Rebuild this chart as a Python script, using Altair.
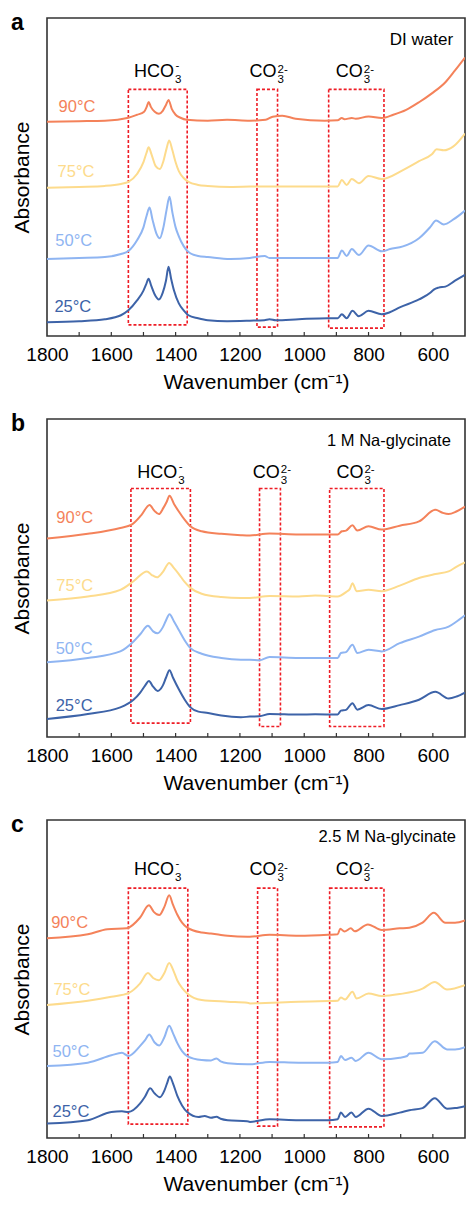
import altair as alt
import pandas as pd

TEMPS = ["25°C", "50°C", "75°C", "90°C"]
COLORS = ["#3D63A8", "#8FB5F2", "#FDDB8C", "#F4825A"]

XTICK_LABELS = [1800, 1600, 1400, 1200, 1000, 800, 600]
XTICK_MARKS = [1700, 1600, 1500, 1400, 1300, 1200, 1100, 1000, 900, 800, 700, 600]

# ---------------- panel a : DI water ----------------
a_25 = [(1800,14),(1700,15),(1620,17),(1570,21),(1547,26),(1520,36),(1500,46),(1492,52),(1484,58),(1476,51),
        (1465,42),(1452,37),(1440,44),(1430,56),(1422,70),(1414,58),(1405,46),(1390,33),(1375,26),(1360,21),
        (1330,18),(1300,16),(1240,15),(1169,15.5),(1124,16),(1108,17),(1088,16),(1017,17),(926,18),(896,18),
        (883,22),(868,18),(850,25.5),(830,20),(800,25.5),(759,22),(734,24),(703,29),(643,37),(607,44),(597,47),
        (582,49),(561,50),(531,56),(500,62)]
a_50 = [(1800,78),(1700,79),(1620,80),(1570,83),(1547,86),(1520,97),(1500,110),(1490,122),(1481,130),(1472,118),
        (1460,104),(1449,99),(1438,110),(1428,128),(1419,141),(1410,125),(1400,110),(1390,101),(1375,91),(1360,85),
        (1330,81),(1300,80),(1230,78),(1169,79),(1123,81),(1108,79),(1017,79),(926,79),(896,79),(883,86.7),
        (868,81),(852,88),(830,82),(800,91.7),(759,85.7),(733,88),(693,90.7),(643,99),(607,110.7),(590,117),
        (566,113),(536,118),(500,127)]
a_75 = [(1800,150),(1700,151),(1620,152),(1570,154),(1547,156),(1520,164),(1500,176),(1490,186),(1484,191),(1475,184),
        (1462,172),(1449,169),(1438,177),(1428,190),(1420,198),(1410,188),(1400,176),(1390,167),(1375,160),(1360,156),
        (1330,153),(1300,152),(1230,151),(1169,151.3),(1100,151.5),(1017,151.5),(926,151.5),(896,151.5),(883,158),
        (868,153),(852,159),(830,154.7),(800,162),(759,159),(693,168),(643,177),(603,184),(588,189),(566,188),
        (536,192),(500,205)]
a_90 = [(1800,217),(1700,217.5),(1620,218),(1547,221),(1520,224),(1498,227),(1490,232),(1484,237),(1477,232),(1465,227),
        (1452,225),(1440,228),(1430,234),(1422,239),(1412,230),(1400,224),(1385,221),(1366,219),(1300,218),(1240,219),
        (1169,218),(1120,219),(1098,222),(1068,223),(1027,220),(936,218),(896,218.5),(883,220.7),(875,219.5),
        (852,220.7),(840,220),(800,222.3),(759,220.7),(723,224),(683,229),(643,236.7),(603,245.7),(561,257),
        (531,269),(500,282)]

# ---------------- panel b : 1 M Na-glycinate ----------------
b_25 = [(1800,18.3),(1673,23.3),(1572,30),(1531,37.7),(1510,45),(1495,52),(1483,56.7),(1470,51),(1456,46.7),(1440,52),
        (1430,60),(1419,67.7),(1408,60),(1390,48.3),(1372,38),(1354,30),(1329,25.7),(1299,24.3),(1258,21.7),(1197,20),
        (1169,20.7),(1139,21),(1108,23.3),(1017,22.7),(966,23),(896,22.7),(886,26.7),(870,27.5),(850,34.3),(835,27.7),
        (800,32.3),(759,28.3),(703,32.3),(643,37.7),(592,45.7),(551,39),(526,41),(500,45)]
b_50 = [(1800,75.7),(1673,80),(1572,86.7),(1531,96.7),(1510,104),(1486,112.7),(1470,107),(1456,105),(1440,111),(1430,118),
        (1419,124.3),(1405,117),(1390,108.3),(1372,98),(1354,90),(1319,84.3),(1258,80),(1197,78.3),(1169,78.3),
        (1139,77.7),(1108,81),(1017,80),(896,80),(886,85),(870,86),(850,93.3),(835,85),(800,88.3),(759,86.7),
        (703,95),(643,101.7),(592,108.3),(551,111.7),(527,116.7),(500,123.3)]
b_75 = [(1800,138.3),(1673,142.3),(1572,149),(1531,157.7),(1489,167.7),(1474,164),(1458,161.7),(1440,167),(1420,176.3),
        (1405,171),(1390,165),(1372,157),(1354,151),(1319,145),(1258,141.7),(1197,140.7),(1169,140.7),(1108,142.7),
        (1017,142.3),(966,143.3),(896,142.3),(870,146.7),(858,150),(850,155.7),(837,147.7),(800,149),(759,147.7),
        (703,153.3),(643,161),(592,165),(551,167.7),(527,172.3),(500,176.7)]
b_90 = [(1800,201),(1673,205.7),(1572,211.7),(1537,215),(1506,225),(1481,235),(1466,229),(1452,225.7),(1438,232),
        (1428,238),(1419,244.3),(1405,236),(1390,228.3),(1372,220),(1354,213.3),(1319,208.3),(1258,205.7),
        (1197,204.3),(1169,204),(1108,206),(1017,205),(896,205),(883,208.3),(870,209),(850,214.3),(835,209),
        (800,213.3),(759,210),(703,214),(643,218.3),(592,230),(570,227),(551,225.7),(527,228.3),(500,233.3)]

# ---------------- panel c : 2.5 M Na-glycinate ----------------
c_25 = [(1800,14.7),(1673,18),(1600,26.3),(1567,27),(1547,26.3),(1511,34.7),(1495,42),(1479,50.3),(1465,45),(1449,41.3),
        (1435,48),(1427,55),(1418,62.3),(1408,55),(1395,43),(1380,33),(1364,26.3),(1329,21.3),(1310,22.3),(1290,20.5),
        (1273,21.5),(1260,19.5),(1238,18),(1177,17),(1169,16.3),(1108,19),(1017,18),(926,18),(896,19),(886,25.7),
        (873,21.3),(853,25.7),(840,21.3),(800,29.7),(759,22.3),(703,25.7),(673,28),(632,30.3),(594,40.3),(556,29.7),
        (531,30.3),(500,32.3)]
c_50 = [(1800,73),(1673,76.3),(1600,83.7),(1567,86.3),(1547,83),(1511,93),(1495,99),(1482,104.7),(1466,97),(1451,93.7),
        (1435,102),(1420,113.7),(1408,106),(1395,96.3),(1380,88),(1364,83),(1319,79),(1290,78.5),(1273,80.5),
        (1260,77.5),(1238,75.7),(1177,74.7),(1169,74.7),(1108,77),(1017,76.3),(926,76.3),(896,77),(886,83),(873,79),
        (853,81.3),(840,78),(800,86.3),(759,79.7),(703,81.3),(680,83),(673,85.5),(632,86.3),(594,98),(556,89.7),
        (531,89.7),(500,92)]
c_75 = [(1800,134.7),(1673,139),(1600,143),(1545,147),(1511,156.3),(1486,167),(1470,162),(1452,159.7),(1435,167),
        (1420,177.3),(1405,168),(1395,159.7),(1380,152),(1364,146.3),(1319,139.7),(1238,138),(1177,137),(1169,136.3),
        (1017,138),(926,138.7),(896,139),(886,142.3),(873,140.3),(850,148),(837,141.3),(800,146.3),(759,143.7),
        (703,145.7),(632,151.3),(594,158),(556,150.3),(500,154.7)]
c_90 = [(1800,202.3),(1673,206.3),(1612,211.3),(1552,212.3),(1511,223),(1483,235.7),(1468,229),(1451,225.7),(1435,234),
        (1420,245.7),(1408,236),(1395,226.3),(1380,218),(1364,213),(1319,208),(1290,207),(1273,206.3),(1238,204.7),
        (1177,203.7),(1169,203.7),(1108,205.7),(1017,204.7),(926,205.7),(896,206.3),(888,212),(875,209),(855,212.3),
        (843,209.3),(802,216.3),(759,210.7),(703,212.3),(673,213),(632,218),(597,228),(561,218),(531,218),(500,220.3)]

# annotation anchors (data coordinates)
a_temp_pos = [(1777, 29), (1774, 95.7), (1767, 165.7), (1764, 232.3)]
b_temp_pos = [(1773, 31.7), (1773, 89), (1771, 153.3), (1771, 221.7)]
c_temp_pos = [(1783, 26.3), (1783, 87), (1780, 150.3), (1787, 218)]

a_boxes = [(1547, 1364, 11.3, 249.7), (1147, 1083, 9, 249.7), (924, 752, 8, 249.7)]
b_boxes = [(1539, 1354, 14, 251.7), (1139, 1074, 10.7, 251.7), (921, 752, 10.7, 251.7)]
c_boxes = [(1547, 1362, 14, 253), (1145, 1083, 12, 253), (921, 752, 11.3, 253)]

a_ions = [("HCO", "3", "-", 1405, 267.3), ("CO", "3", "2-", 1086, 267.3), ("CO", "3", "2-", 818, 267.3)]
b_ions = [("HCO", "3", "-", 1395, 267.5), ("CO", "3", "2-", 1076, 267.5), ("CO", "3", "2-", 816, 267.5)]
c_ions = [("HCO", "3", "-", 1405, 271.3), ("CO", "3", "2-", 1086, 271.3), ("CO", "3", "2-", 818, 271.3)]

W, H = 418, 318


def build(letter, cond, cond_wn, cond_y, cond_size, curves, temp_pos, boxes, ions):
    rows = []
    for t, pts in zip(TEMPS, curves):
        for wn, v in pts:
            rows.append({"wn": wn, "abs": v, "temp": t})
    df = pd.DataFrame(rows)

    xs = alt.Scale(domain=[500, 1800], reverse=True, nice=False, zero=False)
    ys = alt.Scale(domain=[0, 322], nice=False, zero=False)
    xax = alt.Axis(values=XTICK_LABELS, format="d", title="Wavenumber (cm⁻¹)", ticks=False, domain=False,
                   grid=False, labelFontSize=19, labelColor="#000000", labelPadding=9, labelFlush=False,
                   labelOverlap=False, titleFontSize=21, titleFontWeight="normal", titleColor="#000000",
                   titlePadding=7)
    yax = alt.Axis(title="Absorbance", labels=False, ticks=False, domain=False, grid=False,
                   titleFontSize=21, titleFontWeight="normal", titleColor="#000000", titlePadding=15)
    X = alt.X("wn:Q", scale=xs, axis=xax)
    Y = alt.Y("abs:Q", scale=ys, axis=yax)
    col = alt.Color("temp:N", scale=alt.Scale(domain=TEMPS, range=COLORS), legend=None)

    lines = alt.Chart(df).mark_line(strokeWidth=2, clip=True, interpolate="monotone").encode(
        x=X, y=Y, color=col)

    bdf = pd.DataFrame([{"wn": b[0], "wn2": b[1], "abs": b[2], "abs2": b[3]} for b in boxes])
    rects = alt.Chart(bdf).mark_rect(filled=False, stroke="#EE1C25", strokeWidth=1.6,
                                     strokeDash=[3, 2]).encode(x=X, x2="wn2:Q", y=Y, y2="abs2:Q")

    tdf = pd.DataFrame([{"wn": p[0], "abs": p[1], "temp": t} for t, p in zip(TEMPS, temp_pos)])
    tlab = alt.Chart(tdf).mark_text(align="left", baseline="middle", fontSize=16.5).encode(
        x=X, y=Y, text="temp:N", color=col)

    idf = pd.DataFrame([{"wn": i[3], "abs": i[4], "main": i[0], "sub": i[1], "sup": i[2]} for i in ions])
    imain = alt.Chart(idf).mark_text(align="right", baseline="middle", fontSize=18, color="#000000").encode(
        x=X, y=Y, text="main:N")
    isub = alt.Chart(idf).mark_text(align="left", baseline="middle", fontSize=11.5, dx=1, dy=8,
                                    color="#000000").encode(x=X, y=Y, text="sub:N")
    sup2 = idf[idf["sup"] == "2-"]
    sup1 = idf[idf["sup"] == "-"]
    isup2 = alt.Chart(sup2).mark_text(align="left", baseline="middle", fontSize=11.5, dx=1, dy=-2.5,
                                      color="#000000").encode(x=X, y=Y, text="sup:N")
    isup1 = alt.Chart(sup1).mark_text(align="left", baseline="middle", fontSize=11.5, dx=1.5, dy=-6,
                                      color="#000000").encode(x=X, y=Y, text="sup:N")

    cdf = pd.DataFrame([{"wn": cond_wn, "abs": cond_y, "t": cond}])
    clab = alt.Chart(cdf).mark_text(align="right", baseline="middle", fontSize=cond_size,
                                    color="#000000").encode(x=X, y=Y, text="t:N")

    kdf = pd.DataFrame({"wn": XTICK_MARKS})
    ticks = alt.Chart(kdf).mark_rule(color="#333333", strokeWidth=1.2).encode(
        x=X, y=alt.value(H), y2=alt.value(H - 4))

    ldf = pd.DataFrame({"t": [letter]})
    plabel = alt.Chart(ldf).mark_text(align="left", baseline="alphabetic", fontSize=23, fontWeight="bold",
                                      color="#000000").encode(text="t:N", x=alt.value(-36), y=alt.value(12))

    return alt.layer(rects, lines, ticks, tlab, imain, isub, isup2, isup1, clab, plabel).properties(
        width=W, height=H)


pa = build("a", "DI water", 537, 299.7, 17, [a_25, a_50, a_75, a_90], a_temp_pos, a_boxes, a_ions)
pb = build("b", "1 M Na-glycinate", 544, 300, 16.5, [b_25, b_50, b_75, b_90], b_temp_pos, b_boxes, b_ions)
pc = build("c", "2.5 M Na-glycinate", 528, 304.7, 16.5, [c_25, c_50, c_75, c_90], c_temp_pos, c_boxes, c_ions)

chart = alt.vconcat(pa, pb, pc, spacing=83, bounds="flush").properties(
    padding={"left": 2, "top": 3, "right": 0, "bottom": 0}
).configure(font="Liberation Sans").configure_view(stroke="#333333", strokeWidth=1.6)

chart.save("out.html", embed_options={"renderer": "svg", "actions": False})
